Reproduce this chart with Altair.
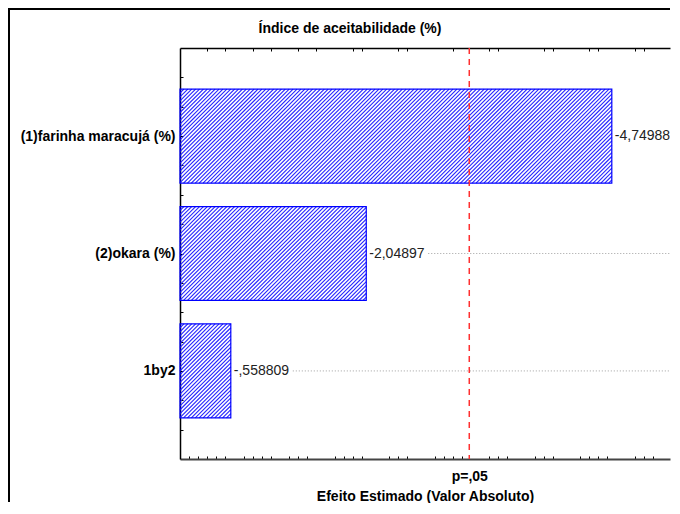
import json
import altair as alt
import pandas as pd

# ---------------- data ----------------
factors = ["(1)farinha maracujá (%)", "(2)okara (%)", "1by2"]
effects = [-4.74988, -2.04897, -0.558809]
effect_labels = ["-4,74988", "-2,04897", "-,558809"]
p_label = "p=,05"
p_line = 3.182
chart_title = "Índice de aceitabilidade (%)"
x_title = "Efeito Estimado (Valor Absoluto)"
x_max = 5.39          # visible end of the (cropped) effect axis
top_ticks = [0.3, 0.5, 0.8, 1.0, 1.3, 1.5, 1.9, 2.0, 2.4, 2.5, 3.0, 3.4, 3.5,
             4.0, 4.1, 4.5, 4.6, 5.0, 5.1]
bottom_ticks = [0.1, 0.2, 0.3, 0.4, 0.5, 0.7, 0.8, 0.9, 1.0, 1.2, 1.3, 1.4,
                1.7, 1.8, 1.9, 2.0, 2.3, 2.4, 2.5, 2.8, 2.9, 3.0, 3.1, 3.4,
                3.5, 3.6, 3.9, 4.0, 4.1, 4.4, 4.5, 4.6, 4.7, 5.0, 5.1, 5.2]
y_ticks = [0.5, 0.75, 1, 1.25, 1.5, 1.75, 2, 2.25, 2.5, 2.75, 3, 3.25, 3.5]

# ---------------- layout / style ----------------
PW, PH = 490, 411
Y_LO, Y_HI = 0.25, 3.75
HALF = 0.4
FONT = "Arial, Liberation Sans, sans-serif"
INK = "#2424ff"
PERIOD = 3.9      # hatch spacing measured along x (px)
px_x = PW / x_max
px_y = PH / (Y_HI - Y_LO)

df = pd.DataFrame({
    "factor": factors,
    "pos": list(range(1, len(factors) + 1)),
    "effect": effects,
    "label": effect_labels,
})
df["absval"] = df["effect"].abs()
df["y0"] = df["pos"] - HALF
df["y1"] = df["pos"] + HALF
df["xend"] = x_max
df["zero"] = 0.0

# '///' hatch strokes of each bar, clipped to the bar, in data units
hx0, hx1, hy0, hy1 = [], [], [], []
for _, r in df.iterrows():
    W = r["absval"] * px_x
    top = (r["y0"] - Y_LO) * px_y
    H = 2 * HALF * px_y
    c = top
    while c < top + H + W:
        xa = max(0.0, c - top - H)
        xb = min(W, c - top)
        if xb - xa > 0.2:
            hx0.append(xa / px_x)
            hx1.append(xb / px_x)
            hy0.append(Y_LO + (c - xa) / px_y)
            hy1.append(Y_LO + (c - xb) / px_y)
        c += PERIOD
hatch_df = pd.DataFrame({"x0": hx0, "x1": hx1, "y0": hy0, "y1": hy1})

x_scale = alt.Scale(domain=[0, x_max], nice=False, zero=False)
y_scale = alt.Scale(domain=[Y_LO, Y_HI], reverse=True, nice=False, zero=False)

y_label_expr = " : ".join(
    f"datum.value == {i + 1} ? {json.dumps(f, ensure_ascii=False)}"
    for i, f in enumerate(factors)
) + " : ''"

y_axis = alt.Axis(
    orient="left", values=y_ticks, labelExpr=y_label_expr, title=None,
    tickSize={"expr": "-3"}, tickColor="black", domainColor="black",
    domainWidth=1.5, labelPadding=8, labelFont=FONT, labelFontSize=14,
    labelFontWeight="bold", labelColor="black", labelOverlap=False,
    grid=False, labelBound=False, labelFlush=False,
)
x_axis = alt.Axis(
    orient="bottom", values=bottom_ticks + [p_line],
    labelExpr=f"abs(datum.value - {p_line}) < 0.001 ? '{p_label}' : ''",
    tickSize={"expr": "-3"}, tickColor="black", domainColor="#444",
    domainWidth=2, labelPadding=13, labelFont=FONT, labelFontSize=14,
    labelFontWeight="bold", labelColor="black", labelOverlap=False,
    labelFlush=False, grid=False, title=x_title, titleFont=FONT,
    titleFontSize=14, titleFontWeight="bold", titleColor="black",
    titleY=37, titleBaseline="middle",
)
top_axis = alt.Axis(
    orient="top", values=top_ticks, labels=False, title=None,
    tickSize={"expr": "-3"}, tickColor="black", domainColor="black",
    domainWidth=1.5, grid=False,
)

layers = []

# dotted guide lines from the end of each value label to the right edge
layers.append(
    alt.Chart(df)
    .mark_rule(color="#a0a0a0", strokeDash=[1, 2], strokeWidth=1,
               xOffset=62, clip=True)
    .encode(x=alt.X("absval:Q", scale=x_scale, axis=None),
            x2="xend:Q",
            y=alt.Y("pos:Q", scale=y_scale, axis=None))
)

# hatch strokes
layers.append(
    alt.Chart(hatch_df)
    .mark_rule(color=INK, strokeWidth=1.1)
    .encode(x=alt.X("x0:Q", scale=x_scale, axis=None), x2="x1:Q",
            y=alt.Y("y0:Q", scale=y_scale, axis=None), y2="y1:Q")
)

# bar outlines (carry the main axes)
layers.append(
    alt.Chart(df)
    .mark_rect(fill=None, stroke="#0000ff", strokeWidth=1.2)
    .encode(x=alt.X("absval:Q", scale=x_scale, axis=x_axis),
            x2="zero:Q",
            y=alt.Y("y0:Q", scale=y_scale, axis=y_axis),
            y2="y1:Q")
)

# value labels
layers.append(
    alt.Chart(df)
    .mark_text(align="left", baseline="middle", dx=3, font=FONT,
               fontSize=14, color="#222222")
    .encode(x=alt.X("absval:Q", scale=x_scale, axis=None),
            y=alt.Y("pos:Q", scale=y_scale, axis=None),
            text="label:N")
)

# p = .05 reference line
layers.append(
    alt.Chart(pd.DataFrame({"t": [p_line]}))
    .mark_rule(color="#ff3030", strokeDash=[6, 5], strokeWidth=1.5)
    .encode(x=alt.X("t:Q", scale=x_scale, axis=top_axis))
)

# outer frame of the figure (left and top edges)
one = pd.DataFrame({"a": [0]})
layers.append(
    alt.Chart(one).mark_rect(color="black")
    .encode(x=alt.value(-172), x2=alt.value(-170),
            y=alt.value(-40), y2=alt.value(PH + 43))
)
layers.append(
    alt.Chart(one).mark_rect(color="black")
    .encode(x=alt.value(-172), x2=alt.value(PW),
            y=alt.value(-40), y2=alt.value(-38))
)

chart = (
    alt.layer(*layers)
    .resolve_axis(x="independent", y="independent")
    .properties(
        width=PW, height=PH, padding=0,
        title=alt.TitleParams(chart_title, font=FONT, fontSize=14,
                              fontWeight="bold", color="black", frame="group",
                              anchor="middle", baseline="middle", offset=-35,
                              dx=-75),
    )
    .configure_view(stroke=None)
    .configure_axis(grid=False)
)

chart.save("out.html", embed_options={"renderer": "svg", "actions": False})
